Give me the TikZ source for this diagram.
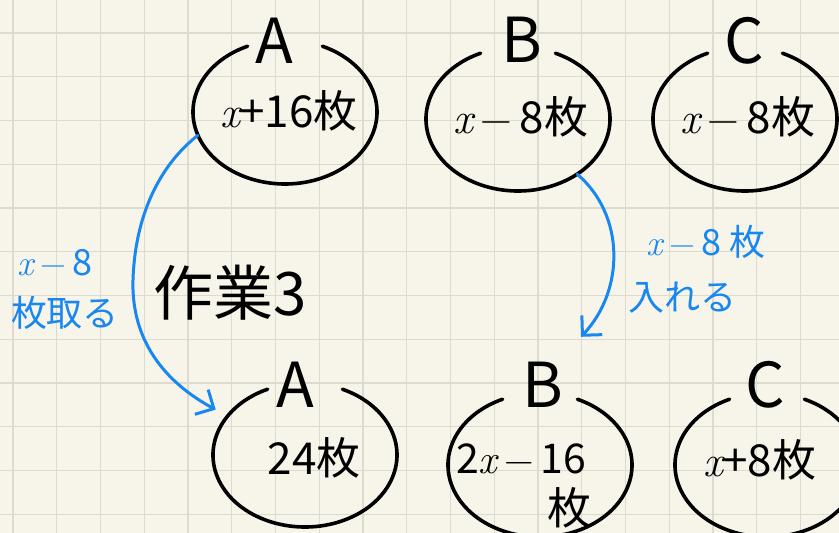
\documentclass[tikz,border=0pt]{standalone}
\usepackage{fontspec}
\newfontfamily\cjk{Noto Sans CJK JP}
\usetikzlibrary{arrows.meta,shapes.geometric}
\definecolor{paper}{RGB}{247,245,233}
\definecolor{gridc}{RGB}{221,219,208}
\definecolor{inkblue}{RGB}{25,135,240}
\newcommand\potarc[1]{\draw[potline] ([shift={(114:92 and 72)}]#1.center) arc[start angle=114,end angle=426,x radius=92,y radius=72];}
\newcommand\xv{{\normalfont\itshape x}}
\newcommand\mn{{\normalfont\,−\,}}
\begin{document}
\begin{tikzpicture}[x=1pt,y=1pt,
  pot/.style={shape=ellipse, minimum width=184pt, minimum height=144pt, inner sep=0pt, draw=none},
  potline/.style={line width=3.6pt, line cap=round},
  val/.style={font=\fontsize{44}{48}\selectfont\cjk, inner sep=0pt},
  lab/.style={font=\fontsize{62}{64}\selectfont\cjk, inner sep=0pt},
  note/.style={text=inkblue, font=\fontsize{36}{40}\selectfont\cjk, inner sep=0pt},
  title/.style={font=\fontsize{60}{64}\selectfont\cjk, inner sep=0pt},
  flow/.style={draw=inkblue, line width=3pt, line cap=round, line join=round,
    -{Straight Barb[length=14pt,width=28pt]}}]
\fill[paper] (0,0) rectangle (839,-533);
\useasboundingbox (0,0) rectangle (839,-533);
\foreach \i in {0,...,18} \draw[gridc, line width=1.2pt] ({13+43.75*\i},0) -- ({13+43.75*\i},-533);
\foreach \j in {0,...,11} \draw[gridc, line width=1.2pt] (0,{-33-43.75*\j}) -- (839,{-33-43.75*\j});

% pots
\node[pot] (A1) at (285,-112) {};
\node[pot] (B1) at (518,-119) {};
\node[pot] (C1) at (745,-119) {};
\node[pot] (A2) at (305,-455) {};
\node[pot] (B2) at (540,-465) {};
\node[pot] (C2) at (767,-465) {};
\potarc{A1}\potarc{B1}\potarc{C1}\potarc{A2}\potarc{B2}\potarc{C2}

% letters
\node[lab] (A1l) at (274,-41) {A};
\node[lab] (B1l) at (522,-40) {B};
\node[lab] (C1l) at (744,-41) {C};
\node[lab] (A2l) at (295,-385) {A};
\node[lab] (B2l) at (543,-385) {B};
\node[lab] (C2l) at (765,-385) {C};

% values
\node[val] (A1v) at (289,-111) {\xv+16枚};
\node[val] (B1v) at (521,-117) {\xv\mn 8枚};
\node[val] (C1v) at (748,-117) {\xv\mn 8枚};
\node[val] (A2v) at (314,-458) {24枚};
\node[val, font=\fontsize{41}{44}\selectfont\cjk] (B2v) at (521,-459) {2\xv\mn 16};
\node[val] (B2w) at (569,-508) {枚};
\node[val] (C2v) at (760,-460) {\xv+8枚};

% notes
\node[note] (N1a) at (55,-263) {\xv\mn 8};
\node[note] (N1b) at (65,-313) {枚取る};
\node[note] (N2a) at (706,-242) {\xv\mn 8\ 枚};
\node[note] (N2b) at (682,-298) {入れる};
\node[title] (T) at (230,-293) {作業3};

% arrows
\draw[flow] (A1.195) .. controls (160,-165) and (135,-215) .. (133,-280)
  .. controls (131,-345) and (170,-385) .. ([shift={(-12,6)}]A2.153);
\draw[flow] (B1.317) .. controls (625,-215) and (625,-290) .. ([shift={(41,56)}]B2.north);
\end{tikzpicture}
\end{document}
